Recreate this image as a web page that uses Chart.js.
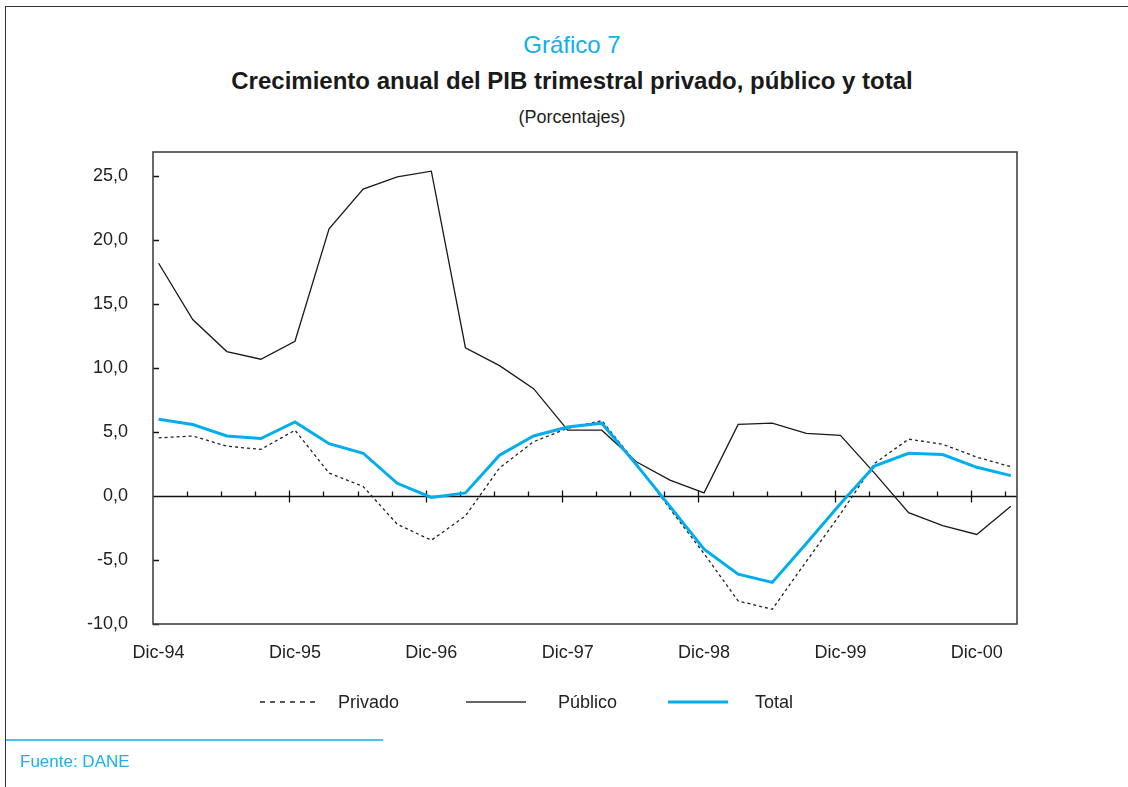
<!DOCTYPE html>
<html>
<head>
<meta charset="utf-8">
<script src="https://cdn.jsdelivr.net/npm/chart.js@4.4.1/dist/chart.umd.min.js"></script>
<style>
html,body{margin:0;padding:0;background:#fff;}
body{width:1128px;height:787px;position:relative;overflow:hidden;font-family:"Liberation Sans",Arial,sans-serif;color:#222;}
canvas{position:absolute;left:0;top:0;}
.frameTop{position:absolute;left:5px;top:6px;width:1123px;height:0;border-top:1.5px solid #333;}
.frameLeft{position:absolute;left:5px;top:6px;width:0;height:781px;border-left:1.5px solid #333;}
.t{position:absolute;left:572px;transform:translateX(-50%);white-space:nowrap;text-align:center;}
#g7{top:30px;height:30px;line-height:30px;font-size:24px;color:#14aee8;}
#ttl{top:66px;height:30px;line-height:30px;font-size:24px;font-weight:bold;color:#1a1a1a;}
#sub{top:105px;height:24px;line-height:24px;font-size:18px;color:#222;}
.lg{position:absolute;top:690px;height:24px;line-height:24px;font-size:18px;color:#222;white-space:nowrap;}
.lgs{position:absolute;top:692px;}
#footLine{position:absolute;left:6px;top:739px;width:377px;height:0;border-top:2px solid #4cc3ee;}
#fuente{position:absolute;left:20px;top:750px;height:24px;line-height:24px;font-size:17px;color:#19b2ea;}
</style>
</head>
<body>
<div class="frameTop"></div>
<div class="frameLeft"></div>
<div class="t" id="g7">Gráfico 7</div>
<div class="t" id="ttl">Crecimiento anual del PIB trimestral privado, público y total</div>
<div class="t" id="sub">(Porcentajes)</div>
<canvas id="c" width="1128" height="787"></canvas>

<svg class="lgs" style="left:258px" width="62" height="20"><line x1="2" y1="10" x2="60" y2="10" stroke="#222" stroke-width="1.3" stroke-dasharray="5,5"/></svg>
<div class="lg" style="left:338px">Privado</div>
<svg class="lgs" style="left:464px" width="64" height="20"><line x1="2" y1="10" x2="62" y2="10" stroke="#333" stroke-width="1.6"/></svg>
<div class="lg" style="left:558px">Público</div>
<svg class="lgs" style="left:666px" width="64" height="20"><line x1="2" y1="10" x2="62" y2="10" stroke="#00aeef" stroke-width="3"/></svg>
<div class="lg" style="left:755px">Total</div>

<div id="footLine"></div>
<div id="fuente">Fuente: DANE</div>

<script>
// Quarters (Dic-94 .. Mar-01)
const quarters = ['Dic-94','Mar-95','Jun-95','Sep-95','Dic-95','Mar-96','Jun-96','Sep-96',
  'Dic-96','Mar-97','Jun-97','Sep-97','Dic-97','Mar-98','Jun-98','Sep-98',
  'Dic-98','Mar-99','Jun-99','Sep-99','Dic-99','Mar-00','Jun-00','Sep-00','Dic-00','Mar-01'];

const privado = [4.55, 4.7, 3.9, 3.65, 5.15, 1.8, 0.75, -2.2, -3.45, -1.55, 2.2, 4.25, 5.3, 5.9,
  2.6, -1.0, -4.5, -8.2, -8.85, -5.1, -1.4, 2.55, 4.45, 4.05, 3.05, 2.3];

const publico = [18.2, 13.8, 11.3, 10.7, 12.1, 20.9, 24.0, 24.95, 25.4, 11.6, 10.2, 8.4, 5.15, 5.15,
  2.7, 1.25, 0.25, 5.6, 5.7, 4.9, 4.75, 1.8, -1.3, -2.3, -3.0, -0.8];

const total = [6.0, 5.6, 4.7, 4.5, 5.8, 4.1, 3.35, 1.0, -0.1, 0.25, 3.2, 4.7, 5.4, 5.7,
  2.5, -0.8, -4.15, -6.1, -6.75, -3.7, -0.6, 2.35, 3.35, 3.25, 2.25, 1.6];

// Tick labels
const xTickIdx = [0, 4, 8, 12, 16, 20, 24];
const yTicks = [-10, -5, 0, 5, 10, 15, 20, 25];

const toXY = arr => arr.map((v, i) => ({x: i, y: v}));
const TICK_SHIFT = 0.165;

const decor = {
  id: 'decor',
  beforeDatasetsDraw(chart) {
    const {ctx, chartArea: a, scales: {x, y}} = chart;
    ctx.save();
    const y0 = Math.round(y.getPixelForValue(0)) + 0.5;
    ctx.strokeStyle = '#111';
    ctx.lineWidth = 1.3;
    ctx.beginPath();
    ctx.moveTo(a.left, y0); ctx.lineTo(a.right, y0);
    for (let i = 1; i < quarters.length; i++) {
      const px = Math.round(x.getPixelForValue(i - TICK_SHIFT)) + 0.5;
      const major = i % 4 === 0;
      ctx.moveTo(px, y0 - (major ? 6 : 5));
      ctx.lineTo(px, y0 + (major ? 6 : 0));
    }
    yTicks.forEach(v => {
      const py = Math.round(y.getPixelForValue(v)) + 0.5;
      ctx.moveTo(a.left, py); ctx.lineTo(a.left + 6, py);
    });
    ctx.stroke();
    ctx.strokeStyle = '#444';
    ctx.lineWidth = 1.6;
    ctx.strokeRect(a.left, a.top, a.right - a.left, a.bottom - a.top);
    ctx.restore();
  }
};

Chart.defaults.font.family = '"Liberation Sans", Arial, sans-serif';
Chart.defaults.color = '#222';

new Chart(document.getElementById('c'), {
  type: 'line',
  data: {
    datasets: [
      {label: 'Total', data: toXY(total), borderColor: '#00aeef', borderWidth: 3, pointRadius: 0, tension: 0, fill: false},
      {label: 'Privado', data: toXY(privado), borderColor: '#222', borderWidth: 1.3, borderDash: [3, 3], pointRadius: 0, tension: 0, fill: false},
      {label: 'Público', data: toXY(publico), borderColor: '#1a1a1a', borderWidth: 1.3, pointRadius: 0, tension: 0, fill: false}
    ]
  },
  options: {
    responsive: false,
    animation: false,
    devicePixelRatio: 1,
    layout: {padding: {left: 53, top: 152, right: 111, bottom: 123}},
    plugins: {legend: {display: false}, title: {display: false}, tooltip: {enabled: false}},
    scales: {
      x: {
        type: 'linear', min: -TICK_SHIFT, max: 25.18,
        grid: {display: false, drawTicks: false},
        border: {display: false},
        afterBuildTicks: s => { s.ticks = xTickIdx.map(v => ({value: v})); },
        afterFit: s => { s.height = 40; },
        ticks: {padding: 18, color: '#222', font: {size: 18}, maxRotation: 0, autoSkip: false,
          callback: v => quarters[v]}
      },
      y: {
        min: -10, max: 26.9,
        grid: {display: false, drawTicks: false},
        border: {display: false},
        afterBuildTicks: s => { s.ticks = yTicks.map(v => ({value: v})); },
        afterFit: s => { s.width = 100; },
        ticks: {padding: 25, color: '#222', font: {size: 18},
          callback: v => v.toFixed(1).replace('.', ',')}
      }
    }
  },
  plugins: [decor]
});
</script>
</body>
</html>
